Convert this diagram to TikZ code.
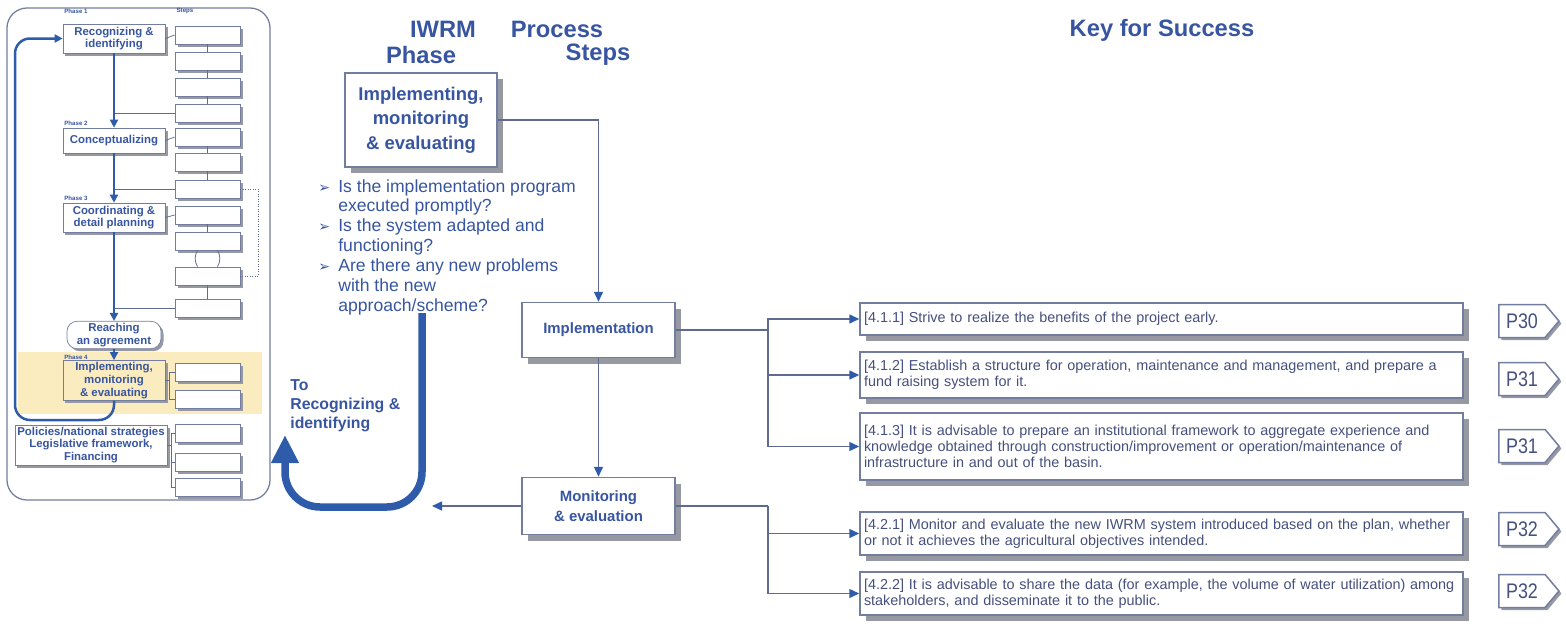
\documentclass[tikz,border=0pt]{standalone}
\usepackage{fontspec}
\setmainfont{Liberation Sans}
\newfontfamily\symfont{DejaVu Sans}
\newfontfamily\tagfont[FakeStretch=0.85]{Liberation Sans}
\usepackage{tikz}
\usetikzlibrary{arrows.meta}
\usetikzlibrary{shapes.symbols}
\usetikzlibrary{shadows}
\definecolor{iwrmblue}{RGB}{46,92,170}
\definecolor{titleblue}{RGB}{55,85,160}
\definecolor{linegray}{RGB}{95,105,145}
\definecolor{boxedge}{RGB}{115,125,160}
\definecolor{shadowgray}{RGB}{150,152,162}
\definecolor{keytext}{RGB}{70,80,125}
\definecolor{phasefill}{RGB}{251,236,192}
\newcommand{\bul}{\makebox[4mm][l]{\symfont\fontsize{8}{8}\selectfont ➢}}
\newcommand{\ind}{\hspace*{4mm}}
\tikzstyle{boxshadow} = [drop shadow={shadow xshift=1.2mm, shadow yshift=-1.2mm, fill=shadowgray, opacity=1}]
\tikzstyle{smallshadow} = [drop shadow={shadow xshift=0.5mm, shadow yshift=-0.5mm, fill=shadowgray, opacity=1}]
\tikzstyle{panel} = [draw=boxedge, line width=0.25mm, rounded corners=4mm]
\tikzstyle{minibox} = [draw=boxedge, fill=white, text=titleblue, font=\bfseries\fontsize{6.5}{7.2}\selectfont, align=center, minimum width=20.4mm, inner sep=0.4mm, smallshadow]
\tikzstyle{stepbox} = [draw=boxedge, fill=white, minimum width=13mm, minimum height=3.6mm, smallshadow]
\tikzstyle{tinylabel} = [text=titleblue, font=\bfseries\fontsize{3.5}{4}\selectfont, inner sep=0]
\tikzstyle{title} = [text=titleblue, font=\bfseries\fontsize{13.5}{15}\selectfont, inner sep=0]
\tikzstyle{bigphase} = [draw=boxedge, line width=0.35mm, fill=white, text=titleblue, font=\bfseries\fontsize{10.5}{14}\selectfont, align=center, minimum width=30.4mm, minimum height=18.8mm, boxshadow]
\tikzstyle{procbox} = [draw=boxedge, line width=0.3mm, fill=white, text=titleblue, font=\bfseries\fontsize{8.5}{11.4}\selectfont, align=center, minimum width=30.6mm, boxshadow]
\tikzstyle{keybox} = [draw=boxedge, line width=0.3mm, fill=white, text=keytext, font=\fontsize{8.2}{9.2}\selectfont, align=left, text width=119mm, inner xsep=0.8mm, boxshadow]
\tikzstyle{pagetag} = [signal, signal to=east, signal pointer angle=100, draw=boxedge, line width=0.3mm, fill=white, text=keytext, font=\tagfont\fontsize{12}{12}\selectfont, minimum width=12mm, minimum height=6.6mm, inner sep=0.5mm, smallshadow]
\tikzstyle{arrow} = [draw=linegray, line width=0.3mm, -{Triangle[length=2mm, width=1.8mm, color=iwrmblue]}]
\tikzstyle{link} = [draw=linegray, line width=0.3mm]
\tikzstyle{thinlink} = [draw=linegray, line width=0.15mm]
\tikzstyle{chain} = [draw=iwrmblue, line width=0.45mm, -{Triangle[length=1.6mm, width=1.6mm]}]
\tikzstyle{bigarrow} = [draw=iwrmblue, line width=1.5mm, -{Triangle[length=5.6mm, width=5.2mm]}]

\begin{document}
\begin{tikzpicture}[x=0.2mm, y=-0.2mm]
	\useasboundingbox (0,0) rectangle (1566,627);

	\fill[phasefill] (18,352) rectangle (262,414);
	\draw[panel] (7,8) rectangle (270,500);

	\node[tinylabel](ph1) at (76,11){Phase 1};
	\node[tinylabel](stp) at (185,11){Steps};
	\node[tinylabel](ph2) at (76,123){Phase 2};
	\node[tinylabel](ph3) at (76,198){Phase 3};
	\node[tinylabel](ph4) at (76,357){Phase 4};

	\node[minibox, minimum height=5.8mm](rec) at (114,38.5){Recognizing \&\\identifying};
	\node[minibox, minimum height=5mm](con) at (114,140.5){Conceptualizing};
	\node[minibox, minimum height=5.8mm](coo) at (114,217.5){Coordinating \&\\detail planning};
	\node[minibox, minimum width=18.8mm, minimum height=4.8mm, rounded corners=2mm](reach) at (114,335){Reaching\\an agreement};
	\node[minibox, minimum height=7mm, fill=phasefill](imp4) at (114,380.5){Implementing,\\monitoring\\\& evaluating};
	\node[minibox, minimum width=30.4mm, minimum height=6.8mm](pol) at (91,445){Policies/national strategies\\Legislative framework,\\Financing};

	\node[stepbox](s1) at (207.5,35){};
	\node[stepbox](s2) at (207.5,61){};
	\node[stepbox](s3) at (207.5,87){};
	\node[stepbox](s4) at (207.5,113){};
	\node[stepbox](s5) at (207.5,137){};
	\node[stepbox](s6) at (207.5,162){};
	\node[stepbox](s7) at (207.5,189){};
	\node[stepbox](s8) at (207.5,215){};
	\node[stepbox](s9) at (207.5,241){};
	\node[stepbox](s10) at (207.5,276){};
	\node[stepbox](s11) at (207.5,308){};
	\node[stepbox](s12) at (207.5,372){};
	\node[stepbox](s13) at (207.5,399){};
	\node[stepbox](s14) at (207.5,433){};
	\node[stepbox](s15) at (207.5,462){};
	\node[stepbox](s16) at (207.5,487){};

	\draw[thinlink](s1) -- (s2);
	\draw[thinlink](s2) -- (s3);
	\draw[thinlink](s3) -- (s4);
	\draw[thinlink](s5) -- (s6);
	\draw[thinlink](s6) -- (s7);
	\draw[thinlink](s8) -- (s9);
	\draw[thinlink](s10) -- (s11);
	\draw[thinlink]([xshift=-2mm]s9.south) to[bend right] ([xshift=-2mm]s10.north);
	\draw[thinlink]([xshift=2mm]s9.south) to[bend left] ([xshift=2mm]s10.north);
	\draw[thinlink, densely dotted](s7.east) -- ++(18,0) |- (s10.east);

	\draw[thinlink](rec.east) -- (s1.west);
	\draw[thinlink](con.east) -- (s5.west);
	\draw[thinlink](coo.east) -- (s8.west);
	\draw[thinlink](imp4.east) -- ++(4,0) |- (s12.west);
	\draw[thinlink](imp4.east) -- ++(4,0) |- (s13.west);
	\draw[thinlink](pol.east) -- ++(4,0) |- (s14.west);
	\draw[thinlink](pol.east) -- ++(4,0) |- (s15.west);
	\draw[thinlink](pol.east) -- ++(4,0) |- (s16.west);

	\draw[thinlink](s4.west) -- (s4.west -| rec.south);
	\draw[thinlink](s7.west) -- (s7.west -| rec.south);
	\draw[thinlink](s11.west) -- (s11.west -| rec.south);

	\draw[chain](rec) -- (con);
	\draw[chain](con) -- (coo);
	\draw[chain](coo) -- (reach);
	\draw[chain](reach) -- (imp4);
	\draw[chain, line width=0.5mm, rounded corners=3mm](imp4.south) |- (15,420) |- (rec.west);

	\node[title](iwrm) at (443,29){IWRM};
	\node[title](phs) at (421,55){Phase};
	\node[title](proc) at (557,29){Process};
	\node[title](stps) at (598,55){Steps};
	\node[title](key) at (1162,30){Key for Success};

	\node[bigphase](phase) at (421,120){Implementing,\\monitoring\\\& evaluating};
	\node[anchor=north west, inner sep=0, align=left, text=titleblue, font=\fontsize{10}{11.3}\selectfont](qs) at (318,179){\bul Is the implementation program\\
		\ind executed promptly?\\
		\bul Is the system adapted and\\
		\ind functioning?\\
		\bul Are there any new problems\\
		\ind with the new\\
		\ind approach/scheme?};
	\node[anchor=north west, inner sep=0, align=left, text=titleblue, font=\bfseries\fontsize{9}{10.8}\selectfont](torec) at (290,379){To\\Recognizing \&\\identifying};

	\node[procbox, minimum height=11mm](impl) at (598.5,330){Implementation};
	\node[procbox, minimum height=11.4mm](mon) at (598.5,506){Monitoring\\\& evaluation};

	\draw[arrow](phase.east) -| (impl.north);
	\draw[arrow](impl) -- (mon);
	\coordinate(back) at (432,506);
	\draw[arrow](mon.west) -- (back);
	\coordinate(qend) at (422,313);
	\coordinate(toend) at (285,435);
	\draw[bigarrow, rounded corners=7mm](qend) -- (422,507) -- (285,507) -- (toend);

	\node[keybox, minimum height=6.4mm](k411) at (1161.5,319){[4.1.1] Strive to realize the benefits of the project early.};
	\node[keybox, minimum height=9.2mm](k412) at (1161.5,375){[4.1.2] Establish a structure for operation, maintenance and management, and prepare a\\fund raising system for it.};
	\node[keybox, minimum height=13.4mm](k413) at (1161.5,446.5){[4.1.3] It is advisable to prepare an institutional framework to aggregate experience and\\knowledge obtained through construction/improvement or operation/maintenance of\\infrastructure in and out of the basin.};
	\node[keybox, minimum height=8.6mm](k421) at (1161.5,533.5){[4.2.1] Monitor and evaluate the new IWRM system introduced based on the plan, whether\\or not it achieves the agricultural objectives intended.};
	\node[keybox, minimum height=8.6mm](k422) at (1161.5,593.5){[4.2.2] It is advisable to share the data (for example, the volume of water utilization) among\\stakeholders, and disseminate it to the public.};

	\coordinate(isplit) at (768,330);
	\coordinate(msplit) at (768,506);
	\draw[link](impl.east) -- (isplit);
	\draw[arrow](isplit) |- (k411.west);
	\draw[arrow](isplit) |- (k412.west);
	\draw[arrow](isplit) |- (k413.west);
	\draw[link](mon.east) -- (msplit);
	\draw[arrow](msplit) |- (k421.west);
	\draw[arrow](msplit) |- (k422.west);

	\node[pagetag](p411) at (1522,321){P30};
	\node[pagetag](p412) at (1522,379){P31};
	\node[pagetag](p413) at (1522,446){P31};
	\node[pagetag](p421) at (1522,529){P32};
	\node[pagetag](p422) at (1522,591){P32};
\end{tikzpicture}
\end{document}
